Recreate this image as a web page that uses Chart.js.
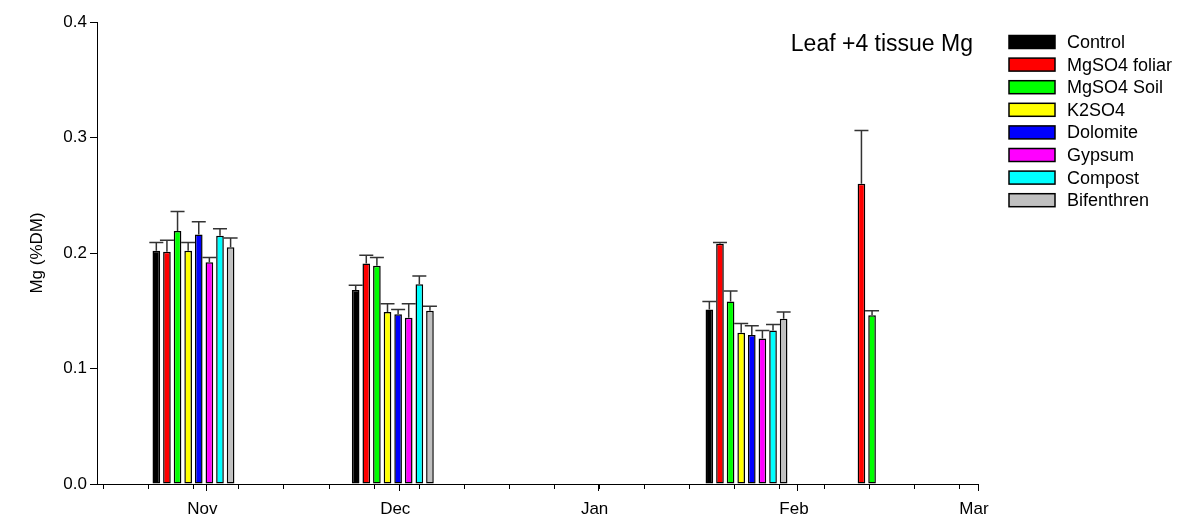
<!DOCTYPE html>
<html>
<head>
<meta charset="utf-8">
<title>Leaf +4 tissue Mg</title>
<script src="https://cdn.jsdelivr.net/npm/chart.js@4.4.1/dist/chart.umd.min.js"></script>
<style>
  html, body { margin: 0; padding: 0; background: #ffffff; }
  #wrap { width: 1192px; height: 518px; position: relative; }
</style>
</head>
<body>
<div id="wrap"><canvas id="chart" width="1192" height="518"></canvas></div>
<script>
// Sampling dates (one bar group per date)
const sampleDates = ['2009-10-30', '2009-11-30', '2010-01-24', '2010-02-15'];

// Treatments and their colours
const treatments = ['Control', 'MgSO4 foliar', 'MgSO4 Soil', 'K2SO4', 'Dolomite', 'Gypsum', 'Compost', 'Bifenthren'];
const treatmentColors = ['#000000', '#ff0000', '#00ff00', '#ffff00', '#0000ff', '#ff00ff', '#00ffff', '#c0c0c0'];

// Mean leaf Mg (%DM) per treatment, one value per sampling date (null = not sampled)
const control     = [0.202, 0.168, 0.151, null];
const mgso4Foliar = [0.201, 0.191, 0.208, 0.260];
const mgso4Soil   = [0.219, 0.189, 0.158, 0.146];
const k2so4       = [0.202, 0.149, 0.131, null];
const dolomite    = [0.216, 0.147, 0.129, null];
const gypsum      = [0.192, 0.144, 0.126, null];
const compost     = [0.215, 0.173, 0.133, null];
const bifenthren  = [0.205, 0.150, 0.143, null];

// Standard errors (upper error bars)
const controlErr     = [0.007, 0.004, 0.007, null];
const mgso4FoliarErr = [0.010, 0.007, 0.001, 0.046];
const mgso4SoilErr   = [0.017, 0.007, 0.009, 0.004];
const k2so4Err       = [0.007, 0.007, 0.008, null];
const dolomiteErr    = [0.011, 0.004, 0.008, null];
const gypsumErr      = [0.004, 0.012, 0.007, null];
const compostErr     = [0.006, 0.007, 0.005, null];
const bifenthrenErr  = [0.008, 0.004, 0.006, null];

const seriesValues = [control, mgso4Foliar, mgso4Soil, k2so4, dolomite, gypsum, compost, bifenthren];
const seriesErrors = [controlErr, mgso4FoliarErr, mgso4SoilErr, k2so4Err, dolomiteErr, gypsumErr, compostErr, bifenthrenErr];

// Axis ticks
const yTicks = [0.0, 0.1, 0.2, 0.3, 0.4];
const monthTickDates = ['2009-11-01', '2009-12-01', '2010-01-01', '2010-02-01', '2010-03-01'];
const monthTickLabels = ['Nov', 'Dec', 'Jan', 'Feb', 'Mar'];
const axisStartDate = '2009-10-15';
const axisEndDate = '2010-03-01';
const weeklyTickStart = '2009-10-16';

// Days counted from 1 Nov
const DAY = 86400000;
const origin = Date.parse('2009-11-01T00:00:00Z');
const toDay = s => Math.round((Date.parse(s + 'T00:00:00Z') - origin) / DAY);

const sampleDays = sampleDates.map(toDay);
const monthTickDays = monthTickDates.map(toDay);
const xMin = toDay(axisStartDate);
const xMax = toDay(axisEndDate);

const FONT = "'Liberation Sans', Arial, Helvetica, sans-serif";

const datasets = treatments.map((name, i) => ({
  label: name,
  data: sampleDays
    .map((d, j) => ({ x: d, y: seriesValues[i][j], err: seriesErrors[i][j] }))
    .filter(p => p.y !== null),
  backgroundColor: treatmentColors[i],
  borderColor: '#000000',
  borderWidth: 1.5,
  borderSkipped: false,
  categoryPercentage: 0.6,
  barPercentage: 0.72
}));

// Upper error bars with caps
const errorBars = {
  id: 'errorBars',
  afterDatasetsDraw(chart) {
    const ctx = chart.ctx;
    const y = chart.scales.y;
    ctx.save();
    ctx.strokeStyle = '#333333';
    ctx.lineWidth = 1.5;
    chart.data.datasets.forEach((ds, i) => {
      const meta = chart.getDatasetMeta(i);
      meta.data.forEach((bar, j) => {
        const p = ds.data[j];
        if (p.err == null) return;
        const top = y.getPixelForValue(p.y + p.err);
        const cx = bar.x;
        ctx.beginPath();
        ctx.moveTo(cx, bar.y);
        ctx.lineTo(cx, top);
        ctx.moveTo(cx - 7, top);
        ctx.lineTo(cx + 7, top);
        ctx.stroke();
      });
    });
    ctx.restore();
  }
};

// Weekly minor ticks on the date axis
const minorTicks = {
  id: 'minorTicks',
  afterDraw(chart) {
    const x = chart.scales.x;
    const ctx = chart.ctx;
    const yb = chart.chartArea.bottom;
    ctx.save();
    ctx.strokeStyle = '#000000';
    ctx.lineWidth = 1;
    for (let d = toDay(weeklyTickStart); d <= xMax; d += 7) {
      const px = Math.round(x.getPixelForValue(d)) + 0.5;
      ctx.beginPath();
      ctx.moveTo(px, yb);
      ctx.lineTo(px, yb + 5);
      ctx.stroke();
    }
    ctx.restore();
  }
};

// Panel label and treatment key
const panelAndKey = {
  id: 'panelAndKey',
  afterDraw(chart) {
    const ctx = chart.ctx;
    const area = chart.chartArea;
    ctx.save();
    ctx.fillStyle = '#000000';
    ctx.font = '23px ' + FONT;
    ctx.textAlign = 'right';
    ctx.textBaseline = 'middle';
    ctx.fillText('Leaf +4 tissue Mg', area.right - 5, 45);

    ctx.font = '18px ' + FONT;
    ctx.textAlign = 'left';
    treatments.forEach((name, i) => {
      const cy = 42 + i * 22.6;
      ctx.fillStyle = treatmentColors[i];
      ctx.fillRect(1009, cy - 6.5, 46, 13);
      ctx.strokeStyle = '#000000';
      ctx.lineWidth = 1.5;
      ctx.strokeRect(1009, cy - 6.5, 46, 13);
      ctx.fillStyle = '#000000';
      ctx.fillText(name, 1067, cy + 1);
    });
    ctx.restore();
  }
};

new Chart(document.getElementById('chart'), {
  type: 'bar',
  data: { datasets },
  options: {
    responsive: false,
    animation: false,
    layout: { padding: { left: 0, right: 214, top: 22, bottom: 0 } },
    plugins: {
      legend: { display: false },
      tooltip: { enabled: false }
    },
    scales: {
      x: {
        type: 'linear',
        min: xMin,
        max: xMax,
        offset: false,
        afterBuildTicks: s => { s.ticks = monthTickDays.map(v => ({ value: v })); },
        afterFit: s => { s.height = 34; },
        grid: {
          offset: false,
          drawOnChartArea: false,
          drawTicks: true,
          tickLength: 7,
          color: '#000000'
        },
        border: { display: true, color: '#000000', width: 1 },
        ticks: {
          autoSkip: false,
          maxRotation: 0,
          padding: 8,
          labelOffset: -4,
          color: '#000000',
          font: { family: FONT, size: 17 },
          callback: v => monthTickLabels[monthTickDays.indexOf(v)] ?? ''
        }
      },
      y: {
        min: 0,
        max: 0.4,
        afterBuildTicks: s => { s.ticks = yTicks.map(v => ({ value: v })); },
        afterFit: s => { s.width = 97; },
        grid: {
          drawOnChartArea: false,
          drawTicks: true,
          tickLength: 7,
          color: '#000000'
        },
        border: { display: true, color: '#000000', width: 1 },
        ticks: {
          padding: 3,
          color: '#000000',
          font: { family: FONT, size: 17 },
          callback: v => Number(v).toFixed(1)
        },
        title: {
          display: true,
          text: 'Mg (%DM)',
          color: '#000000',
          font: { family: FONT, size: 17 },
          padding: { top: 27, bottom: 0 }
        }
      }
    }
  },
  plugins: [errorBars, minorTicks, panelAndKey]
});
</script>
</body>
</html>
